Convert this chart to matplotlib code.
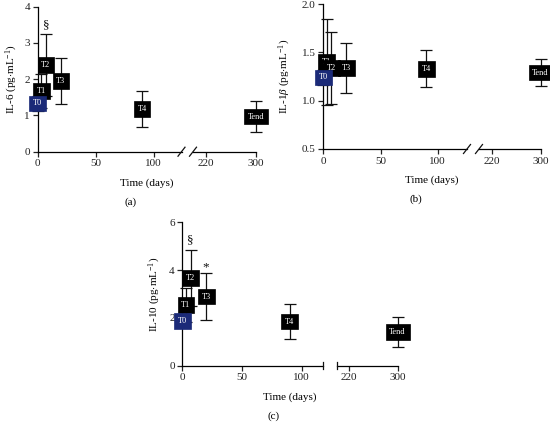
import matplotlib
matplotlib.use("Agg")
import matplotlib.pyplot as plt
from matplotlib.lines import Line2D

plt.rcParams['font.family'] = ['Liberation Serif', 'DejaVu Serif']
plt.rcParams['mathtext.fontset'] = 'custom'
plt.rcParams['mathtext.rm'] = 'Liberation Serif'
plt.rcParams['mathtext.it'] = 'Liberation Serif:italic'

W, H = 550, 423

# time points (days) and labels
labels = ['T0', 'T1', 'T2', 'T3', 'T4', 'Tend']
days = [0, 3, 7, 20, 90, 300]

il6_mean = [1.33, 1.68, 2.39, 1.95, 1.18, 0.97]
il6_err = [0.22, 0.47, 0.86, 0.64, 0.50, 0.42]

il1b_mean = [1.24, 1.40, 1.34, 1.34, 1.33, 1.29]
il1b_err = [0.08, 0.44, 0.37, 0.26, 0.19, 0.14]

il10_mean = [1.88, 2.54, 3.66, 2.89, 1.84, 1.40]
il10_err = [0.25, 0.70, 1.18, 0.98, 0.74, 0.62]

# significance marks: (index, symbol, y)
il6_marks = [(2, '§', 3.5)]
il10_marks = [(2, '§', 5.25), (3, '*', 4.1)]

NAVY = '#1b2a78'


def fx(px):
    return px / W


def fy(py):
    return 1 - py / H


def panel(spec):
    x0, xb1, xb2, x1 = spec['xpix']
    ytop, ybot = spec['ypix']
    b = fy(ybot)
    h = fy(ytop) - b
    axl = plt.gcf().add_axes([fx(x0), b, fx(xb1) - fx(x0), h])
    axr = plt.gcf().add_axes([fx(xb2), b, fx(x1) - fx(xb2), h], sharey=axl)
    axl.set_xlim(0, spec['xl_max'])
    axr.set_xlim(spec['xr_min'], 300)
    axl.set_ylim(*spec['ylim'])
    axl.set_yticks(spec['yticks'])
    axl.set_yticklabels(spec['yticklabels'])
    axl.set_xticks([0, 50, 100])
    axr.set_xticks([220, 300])
    for ax in (axl, axr):
        ax.patch.set_visible(False)
        for s in ('top', 'right'):
            ax.spines[s].set_visible(False)
        ax.tick_params(direction='out', length=3.5, width=0.9, labelsize=8,
                       pad=2, colors='#222222')
        ax.spines['left'].set_linewidth(0.9)
        ax.spines['bottom'].set_linewidth(0.9)
    axr.spines['left'].set_visible(False)
    axr.tick_params(axis='y', left=False, labelleft=False)

    mean, err = spec['mean'], spec['err']
    order = [1, 2, 3, 4, 5, 0]
    for i in order:
        ax = axr if days[i] > 200 else axl
        ax.errorbar(days[i], mean[i], yerr=err[i], fmt='none', ecolor='#111111',
                    elinewidth=0.9, capsize=4.3, capthick=0.9, clip_on=False,
                    zorder=3 + i * 0.01)
        col = NAVY if i == 0 else 'black'
        ax.text(days[i], mean[i], labels[i], ha='center', va='center',
                color='white', fontsize=6, zorder=5 if i else 6, clip_on=False,
                bbox=dict(boxstyle='square,pad=0.45', fc=col, ec=col, lw=0.5))
    for i, sym, yv in spec['marks']:
        axl.text(days[i], yv, sym, ha='center', va='center', fontsize=9.5,
                 color='#111111')

    if spec['slash']:
        for cx in (xb1, xb2):
            plt.gcf().add_artist(Line2D([fx(cx - 3.5), fx(cx + 3.5)],
                                        [fy(ybot + 4.5), fy(ybot - 4.5)],
                                        color='#111111', lw=0.9))
    else:
        for cx in (xb1, xb2):
            plt.gcf().add_artist(Line2D([fx(cx), fx(cx)],
                                        [fy(ybot + 3.5), fy(ybot - 3.5)],
                                        color='#111111', lw=0.9))

    plt.gcf().text(fx(spec['ylab_x']), fy((ytop + ybot) / 2), spec['ylabel'],
                   rotation=90, ha='center', va='center', fontsize=8)
    cx = (x0 + x1) / 2
    plt.gcf().text(fx(cx), fy(ybot + 31), 'Time (days)', ha='center',
                   va='center', fontsize=8)
    plt.gcf().text(fx(cx - 16), fy(ybot + 50), spec['tag'], ha='center',
                   va='center', fontsize=8)
    return axl, axr


fig = plt.figure(figsize=(W / 100, H / 100), dpi=100)

panel(dict(xpix=(37.7, 181.5, 193, 256), ypix=(6.7, 151.7), xl_max=124,
           xr_min=198.8, ylim=(0, 4), yticks=[0, 1, 2, 3, 4],
           yticklabels=['0', '1', '2', '3', '4'], mean=il6_mean, err=il6_err,
           marks=il6_marks, slash=True, ylab_x=12,
           ylabel='IL-6 (pg$\\cdot$mL$^{-1}$)', tag='(a)'))

panel(dict(xpix=(323.3, 467, 479, 540.7), ypix=(4, 149), xl_max=125.6,
           xr_min=199.3, ylim=(0.5, 2.0), yticks=[0.5, 1.0, 1.5, 2.0],
           yticklabels=['0.5', '1.0', '1.5', '2.0'], mean=il1b_mean,
           err=il1b_err, marks=[], slash=True, ylab_x=285,
           ylabel='IL-1$\\mathit{\\beta}$ (pg$\\cdot$mL$^{-1}$)', tag='(b)'))

panel(dict(xpix=(182.3, 323, 337, 397.7), ypix=(222.3, 365.7), xl_max=118,
           xr_min=199.7, ylim=(0, 6), yticks=[0, 2, 4, 6],
           yticklabels=['0', '2', '4', '6'], mean=il10_mean, err=il10_err,
           marks=il10_marks, slash=False, ylab_x=155,
           ylabel='IL-10 (pg$\\cdot$mL$^{-1}$)', tag='(c)'))

fig.savefig('out.png', dpi=100)
